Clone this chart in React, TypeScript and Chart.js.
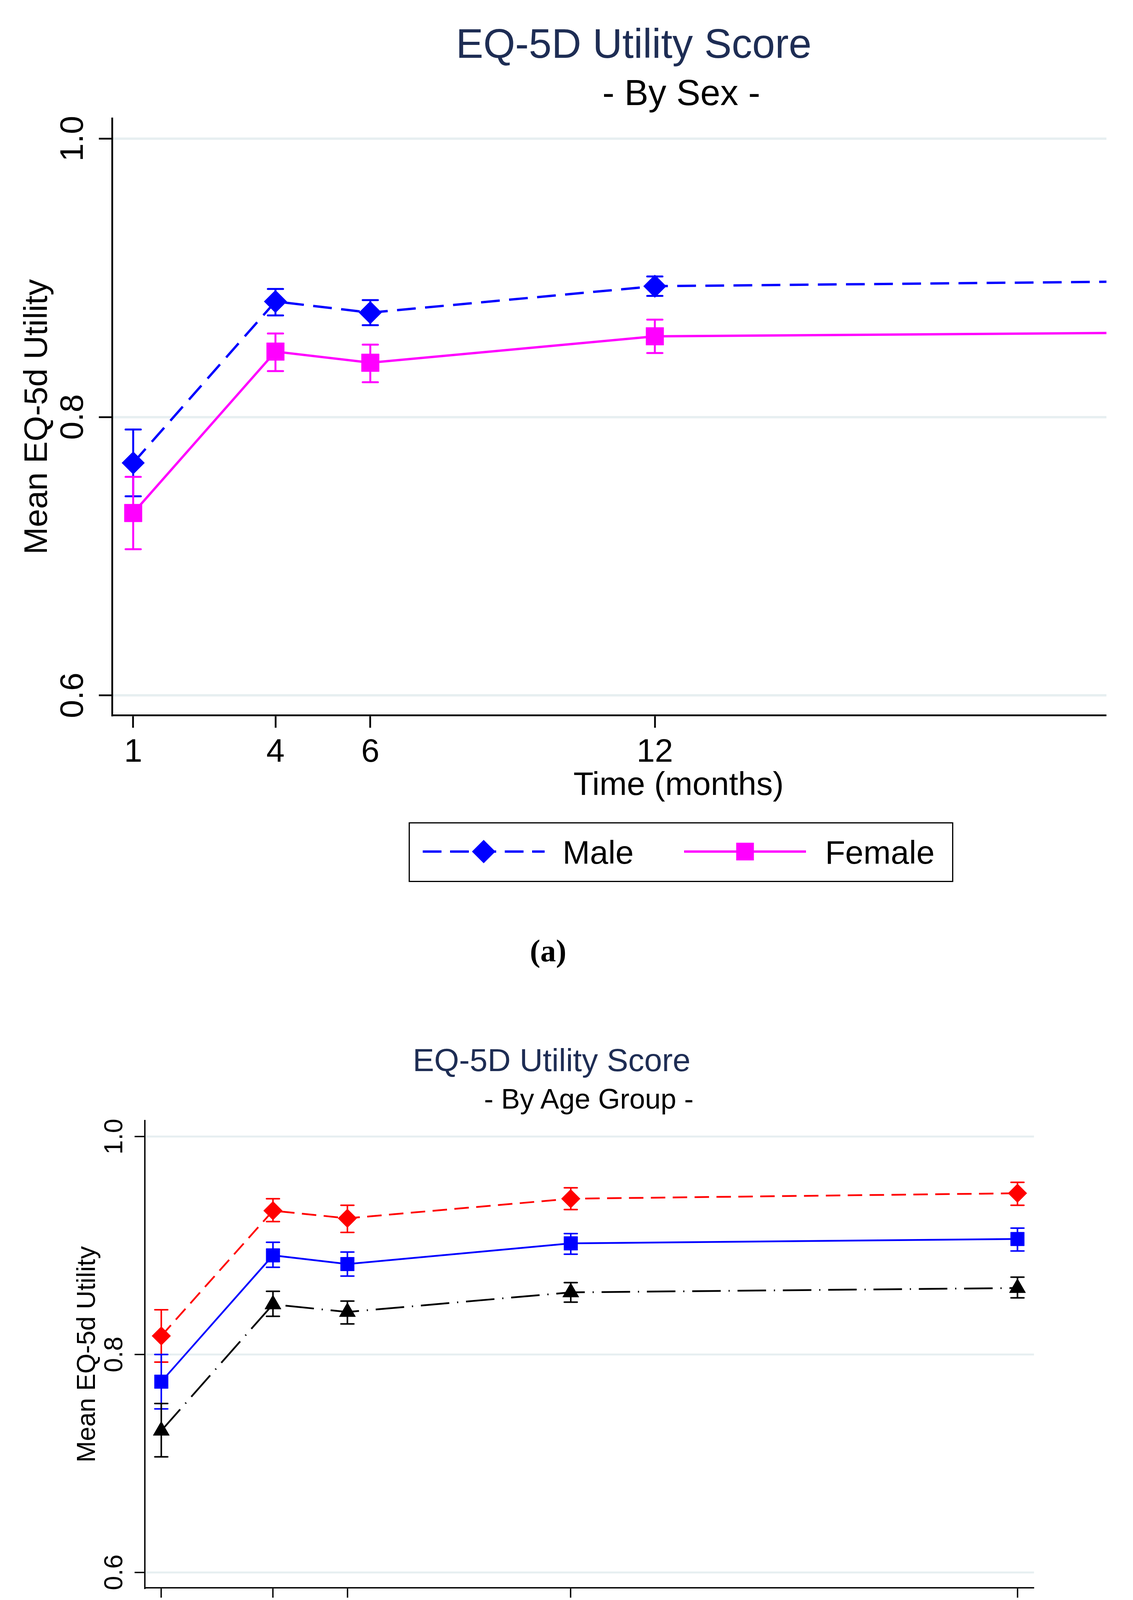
import React, { useEffect, useRef } from 'react';
import { Chart, registerables } from 'chart.js';

Chart.register(...registerables);

const SANS = "'Liberation Sans', Arial, Helvetica, sans-serif";
const SERIF = "'Liberation Serif', 'Times New Roman', serif";
const TITLE_NAVY = '#1e2d54';
const GRID = '#e7eff1';

// time points and axes
const MONTHS = [1, 4, 6, 12, 24];
const X_TICKS = [1, 4, 6, 12, 24];
const Y_TICKS = [0.6, 0.8, 1.0];
const X_MIN = 0.556;
const X_MAX = 24.444;
const Y_MIN = 0.5857;
const Y_MAX = 1.0146;

// (a) by sex - the 24 month points fall outside the cropped panel
const MALE_MEAN = [0.767, 0.883, 0.875, 0.894, 0.898];
const MALE_LO = [0.743, 0.873, 0.866, 0.887, null];
const MALE_HI = [0.791, 0.892, 0.884, 0.901, null];
const FEMALE_MEAN = [0.731, 0.847, 0.839, 0.858, 0.861];
const FEMALE_LO = [0.705, 0.833, 0.825, 0.846, null];
const FEMALE_HI = [0.757, 0.860, 0.852, 0.870, null];

// (b) by age group
const AGE_5_9_MEAN = [0.817, 0.932, 0.925, 0.943, 0.948];
const AGE_5_9_LO = [0.793, 0.922, 0.912, 0.933, 0.937];
const AGE_5_9_HI = [0.841, 0.943, 0.937, 0.953, 0.958];
const AGE_10_14_MEAN = [0.775, 0.891, 0.883, 0.902, 0.906];
const AGE_10_14_LO = [0.750, 0.880, 0.872, 0.892, 0.895];
const AGE_10_14_HI = [0.800, 0.903, 0.894, 0.911, 0.916];
const AGE_15_17_MEAN = [0.730, 0.846, 0.839, 0.857, 0.861];
const AGE_15_17_LO = [0.706, 0.835, 0.828, 0.848, 0.852];
const AGE_15_17_HI = [0.755, 0.858, 0.849, 0.866, 0.871];

// vertical CI bars with caps, drawn under the lines and markers
const errorBars = {
  id: 'errorBars',
  beforeDatasetsDraw(chart: any) {
    const { ctx } = chart;
    const xs = chart.scales.x;
    const ys = chart.scales.y;
    chart.data.datasets.forEach((ds: any) => {
      if (!ds.errLo) return;
      ctx.save();
      ctx.strokeStyle = ds.borderColor;
      ds.data.forEach((p: any, j: number) => {
        const lo = ds.errLo[j];
        const hi = ds.errHi[j];
        if (lo == null || hi == null) return;
        const x = xs.getPixelForValue(p.x);
        const y1 = ys.getPixelForValue(lo);
        const y2 = ys.getPixelForValue(hi);
        ctx.lineWidth = ds.errWidth;
        ctx.lineCap = 'butt';
        ctx.beginPath();
        ctx.moveTo(x, y1);
        ctx.lineTo(x, y2);
        ctx.stroke();
        ctx.lineCap = 'round';
        ctx.beginPath();
        ctx.moveTo(x - ds.capHalf, y1);
        ctx.lineTo(x + ds.capHalf, y1);
        ctx.moveTo(x - ds.capHalf, y2);
        ctx.lineTo(x + ds.capHalf, y2);
        ctx.stroke();
      });
      ctx.restore();
    });
  },
};

interface Series {
  label: string;
  color: string;
  mean: number[];
  lo: (number | null)[];
  hi: (number | null)[];
  dash: number[];
  marker: string;
  radius: number;
}

interface PanelProps {
  series: Series[];
  left: number;
  top: number;
  width: number;
  height: number;
  clipWidth?: number;
  padTop: number;
  padRight: number;
  yAxisWidth: number;
  xAxisHeight: number;
  font: number;
  xTickLen: number;
  yTickLen: number;
  tickWidth: number;
  axisWidth: number;
  gridWidth: number;
  xTickPad: number;
  yTickPad: number;
  xTitlePad: number;
  yTitlePad: number;
  lineWidth: number;
  errWidth: number;
  capHalf: number;
}

function Panel(p: PanelProps) {
  const canvasRef = useRef<HTMLCanvasElement>(null);

  useEffect(() => {
    if (!canvasRef.current) return;
    const font = { family: SANS, size: p.font, lineHeight: 1 };
    const chart = new Chart(canvasRef.current, {
      type: 'line',
      data: {
        datasets: p.series.map((s) => ({
          label: s.label,
          data: MONTHS.map((m, i) => ({ x: m, y: s.mean[i] })),
          borderColor: s.color,
          backgroundColor: s.color,
          borderWidth: p.lineWidth,
          borderDash: s.dash,
          tension: 0,
          fill: false,
          pointStyle: s.marker,
          pointRadius: s.radius,
          pointBackgroundColor: s.color,
          pointBorderColor: s.color,
          pointBorderWidth: 1,
          errLo: s.lo,
          errHi: s.hi,
          errWidth: p.errWidth,
          capHalf: p.capHalf,
        })) as any,
      },
      options: {
        animation: false,
        responsive: true,
        maintainAspectRatio: false,
        events: [],
        layout: { padding: { left: 0, top: p.padTop, right: p.padRight, bottom: 0 } },
        plugins: {
          legend: { display: false },
          tooltip: { enabled: false },
        },
        scales: {
          x: {
            type: 'linear',
            position: 'bottom',
            min: X_MIN,
            max: X_MAX,
            afterBuildTicks: (scale: any) => {
              scale.ticks = X_TICKS.map((v) => ({ value: v }));
            },
            afterFit: (scale: any) => {
              scale.height = p.xAxisHeight;
            },
            ticks: {
              autoSkip: false,
              minRotation: 0,
              maxRotation: 0,
              padding: p.xTickPad,
              color: '#000',
              font,
              callback: (v: any) => String(v),
            },
            grid: {
              drawOnChartArea: false,
              drawTicks: true,
              tickLength: p.xTickLen,
              tickWidth: p.tickWidth,
              tickColor: '#000',
            },
            border: { display: true, color: '#000', width: p.axisWidth },
            title: {
              display: true,
              text: 'Time (months)',
              color: '#000',
              font,
              padding: { top: 0, bottom: p.xTitlePad },
            },
          },
          y: {
            type: 'linear',
            position: 'left',
            min: Y_MIN,
            max: Y_MAX,
            afterBuildTicks: (scale: any) => {
              scale.ticks = Y_TICKS.map((v) => ({ value: v }));
            },
            afterFit: (scale: any) => {
              scale.width = p.yAxisWidth;
            },
            ticks: {
              minRotation: 90,
              maxRotation: 90,
              crossAlign: 'center',
              padding: p.yTickPad,
              color: '#000',
              font,
              callback: (v: any) => Number(v).toFixed(1),
            },
            grid: {
              color: GRID,
              lineWidth: p.gridWidth,
              drawTicks: true,
              tickLength: p.yTickLen,
              tickWidth: p.tickWidth,
              tickColor: '#000',
            },
            border: { display: true, color: '#000', width: p.axisWidth },
            title: {
              display: true,
              text: 'Mean EQ-5d Utility',
              color: '#000',
              font,
              padding: { top: p.yTitlePad, bottom: 0 },
            },
          },
        },
      } as any,
      plugins: [errorBars],
    });
    return () => chart.destroy();
  }, []);

  return (
    <div
      style={{
        position: 'absolute',
        left: p.left,
        top: p.top,
        width: p.clipWidth ?? p.width,
        height: p.height,
        overflow: 'hidden',
      }}
    >
      <div style={{ position: 'relative', width: p.width, height: p.height }}>
        <canvas ref={canvasRef} />
      </div>
    </div>
  );
}

// text placed by its baseline (line-height equal to font size)
function Txt(props: {
  x: number;
  baseline: number;
  size: number;
  text: string;
  center?: boolean;
  color?: string;
  serif?: boolean;
  bold?: boolean;
}) {
  const k = props.serif ? 0.8375 : 0.8465;
  return (
    <div
      style={{
        position: 'absolute',
        top: props.baseline - k * props.size,
        left: props.center ? props.x - 1500 : props.x,
        width: props.center ? 3000 : undefined,
        textAlign: props.center ? 'center' : 'left',
        fontFamily: props.serif ? SERIF : SANS,
        fontWeight: props.bold ? 'bold' : 'normal',
        fontSize: props.size,
        lineHeight: `${props.size}px`,
        color: props.color ?? '#000',
        whiteSpace: 'nowrap',
      }}
    >
      {props.text}
    </div>
  );
}

function Sample(props: {
  x1: number;
  x2: number;
  y: number;
  color: string;
  dash: number[];
  width: number;
  marker: string;
  r: number;
}) {
  const w = props.x2 - props.x1;
  const cx = w / 2;
  const cy = 50;
  const r = props.r;
  let shape: React.ReactNode = null;
  if (props.marker === 'rectRot') {
    shape = <polygon points={`${cx - r},${cy} ${cx},${cy - r} ${cx + r},${cy} ${cx},${cy + r}`} fill={props.color} />;
  } else if (props.marker === 'rect') {
    const h = r * Math.SQRT1_2;
    shape = <rect x={cx - h} y={cy - h} width={2 * h} height={2 * h} fill={props.color} />;
  } else {
    const a = (2 * Math.PI) / 3;
    shape = (
      <polygon
        points={`${cx},${cy - r} ${cx + Math.sin(a) * r},${cy - Math.cos(a) * r} ${cx + Math.sin(2 * a) * r},${cy - Math.cos(2 * a) * r}`}
        fill={props.color}
      />
    );
  }
  return (
    <svg
      width={w}
      height={100}
      style={{ position: 'absolute', left: props.x1, top: props.y - 50, overflow: 'visible' }}
    >
      <line
        x1={0}
        y1={cy}
        x2={w}
        y2={cy}
        stroke={props.color}
        strokeWidth={props.width}
        strokeDasharray={props.dash.length ? props.dash.join(' ') : undefined}
      />
      {shape}
    </svg>
  );
}

const SEX_SERIES: Series[] = [
  { label: 'Male', color: '#0000ff', mean: MALE_MEAN, lo: MALE_LO, hi: MALE_HI, dash: [48, 24], marker: 'rectRot', radius: 29 },
  { label: 'Female', color: '#ff00ff', mean: FEMALE_MEAN, lo: FEMALE_LO, hi: FEMALE_HI, dash: [], marker: 'rect', radius: 32 },
];

const AGE_SERIES: Series[] = [
  { label: '5-9 years', color: '#ff0000', mean: AGE_5_9_MEAN, lo: AGE_5_9_LO, hi: AGE_5_9_HI, dash: [37, 19], marker: 'rectRot', radius: 24 },
  { label: '10-14 years', color: '#0000ff', mean: AGE_10_14_MEAN, lo: AGE_10_14_LO, hi: AGE_10_14_HI, dash: [], marker: 'rect', radius: 24.7 },
  { label: '15-17 years', color: '#000000', mean: AGE_15_17_MEAN, lo: AGE_15_17_LO, hi: AGE_15_17_HI, dash: [73, 20, 3, 20], marker: 'triangle', radius: 24 },
];

export default function App() {
  return (
    <div
      style={{
        position: 'absolute',
        left: 0,
        top: 0,
        width: 2900,
        height: 4638,
        background: '#fff',
        overflow: 'hidden',
      }}
    >
      {/* (a) */}
      <Txt x={1622} baseline={148} size={105} text="EQ-5D Utility Score" center color={TITLE_NAVY} />
      <Txt x={1744} baseline={269} size={92} text="- By Sex -" center />
      <Panel
        series={SEX_SERIES}
        left={0}
        top={200}
        width={3230}
        height={1891}
        clipWidth={2832}
        padTop={103}
        padRight={43.4}
        yAxisWidth={287}
        xAxisHeight={260}
        font={84}
        xTickLen={32}
        yTickLen={34}
        tickWidth={4.5}
        axisWidth={4.5}
        gridWidth={6}
        xTickPad={22}
        yTickPad={5.6}
        xTitlePad={37.4}
        yTitlePad={54.6}
        lineWidth={6}
        errWidth={5}
        capHalf={19.5}
      />
      <div
        style={{
          position: 'absolute',
          left: 1046,
          top: 2105,
          width: 1394,
          height: 153,
          border: '3.5px solid #000',
          boxSizing: 'border-box',
        }}
      />
      <Sample x1={1082} x2={1394} y={2180} color="#0000ff" dash={[48, 22]} width={6} marker="rectRot" r={30} />
      <Txt x={1440} baseline={2211} size={84} text="Male" />
      <Sample x1={1751} x2={2063} y={2180} color="#ff00ff" dash={[]} width={6} marker="rect" r={32} />
      <Txt x={2112} baseline={2211} size={84} text="Female" />
      <Txt x={1403} baseline={2461} size={80} text="(a)" center serif bold />

      {/* (b) */}
      <Txt x={1412} baseline={2742} size={82} text="EQ-5D Utility Score" center color={TITLE_NAVY} />
      <Txt x={1507} baseline={2838} size={72} text="- By Age Group -" center />
      <Panel
        series={AGE_SERIES}
        left={0}
        top={2800}
        width={2700}
        height={1465}
        padTop={69}
        padRight={53.4}
        yAxisWidth={370.5}
        xAxisHeight={200}
        font={66}
        xTickLen={25}
        yTickLen={26}
        tickWidth={3.5}
        axisWidth={3.5}
        gridWidth={5}
        xTickPad={17.5}
        yTickPad={3.6}
        xTitlePad={25}
        yTitlePad={192}
        lineWidth={4.5}
        errWidth={4}
        capHalf={16.5}
      />
      <div
        style={{
          position: 'absolute',
          left: 461,
          top: 4281,
          width: 2108,
          height: 118,
          border: '3.5px solid #000',
          boxSizing: 'border-box',
        }}
      />
      <Sample x1={487} x2={734} y={4339} color="#ff0000" dash={[37, 19]} width={4.5} marker="rectRot" r={24} />
      <Txt x={768} baseline={4366} size={66} text="5-9 years" />
      <Sample x1={1152} x2={1398} y={4339} color="#0000ff" dash={[]} width={4.5} marker="rect" r={24.7} />
      <Txt x={1436} baseline={4366} size={66} text="10-14 years" />
      <Sample x1={1892} x2={2141} y={4339} color="#000000" dash={[73, 20, 3, 20]} width={4.5} marker="triangle" r={24} />
      <Txt x={2178} baseline={4366} size={66} text="15-17 years" />
      <Txt x={1403} baseline={4577} size={80} text="(b)" center serif bold />
    </div>
  );
}
